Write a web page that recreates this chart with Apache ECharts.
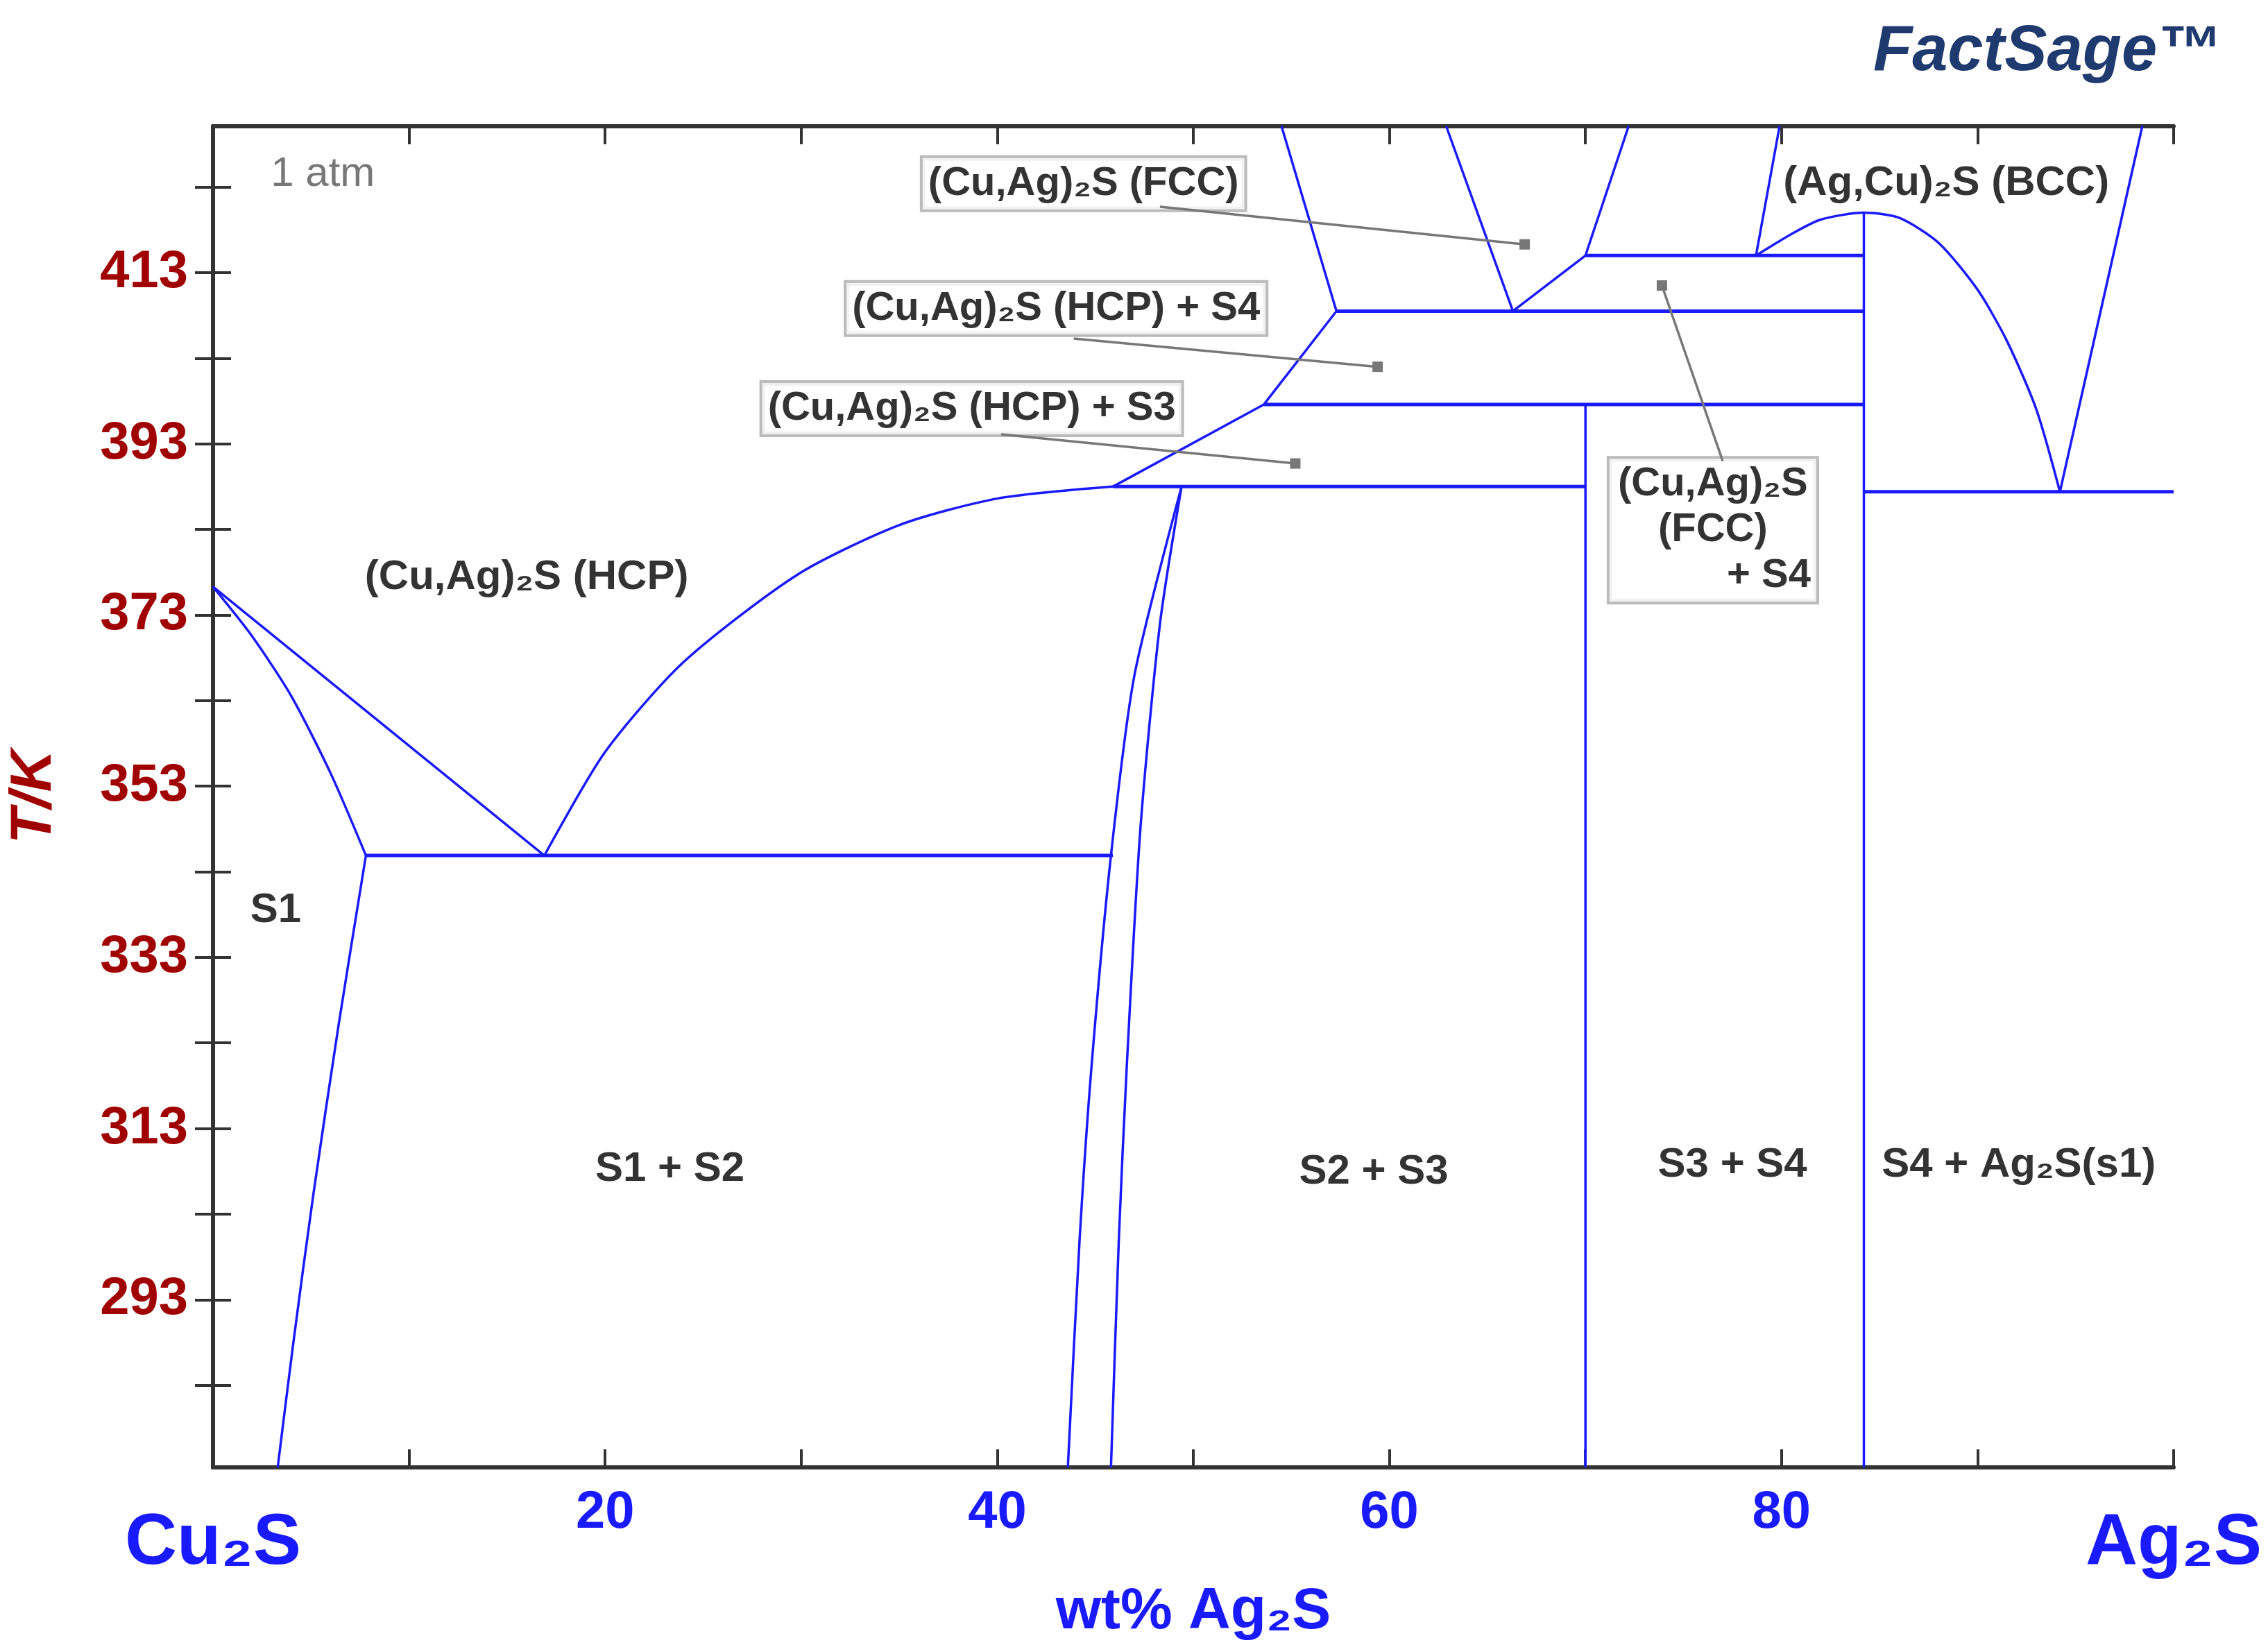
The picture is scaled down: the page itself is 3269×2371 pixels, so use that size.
<!DOCTYPE html>
<html><head><meta charset="utf-8">
<script src="https://cdn.jsdelivr.net/npm/echarts@6/dist/echarts.min.js"></script>
<style>html,body{margin:0;background:#fff}#c{width:3269px;height:2371px}</style>
</head><body><div id="c"></div>
<script>
// Phase boundary lines: [wt% Ag2S, T/K]
const s1Upper = [[0,376.3],[2,370.5],[4,363.5],[6,354.5],[7.8,344.9]];
const s1Lower = [[7.8,344.9],[6.4,325],[5.1,305],[4.1,288],[3.3,273.4]];
const hcpSolidus = [[0,376.3],[16.9,344.9]];
const eutectic = [[7.8,344.9],[45.9,344.9]];
const hcpLiquidus = [[16.9,344.9],[20,357],[24,367.5],[29.8,377.7],[35,383.5],[40,386.6],[45.9,388]];
const hcpUpper = [[45.9,388],[53.6,397.6],[57.3,408.5],[54.5,430.1]];
const s2Left = [[43.6,273.4],[44.2,300],[44.8,320],[45.8,344.9],[47,366],[49.4,388]];
const s2Right = [[45.8,273.4],[46.2,300],[46.6,320],[47.3,348],[48.3,372],[49.4,388]];
const h388 = [[45.9,388],[70,388]];
const h397 = [[53.6,397.6],[84.2,397.6]];
const h408 = [[57.3,408.5],[84.2,408.5]];
const h415 = [[70,415],[84.2,415]];
const v70 = [[70,273.4],[70,397.6]];
const v84 = [[84.2,273.4],[84.2,420]];
const fccLeft = [[62.9,430.1],[66.3,408.5],[70,415],[72.2,430.1]];
const fccRight = [[78.7,415],[79.9,430.1]];
const bccDome = [[78.7,415],[80.5,417.5],[82,419.2],[84.2,420],[86,419.4],[88,416.5],[90,411],[91.5,405],[93,397],[94.2,387.4]];
const bccRight = [[94.2,387.4],[98.4,430.1]];
const h387 = [[84.2,387.4],[100,387.4]];
const boundaries = [s1Upper,s1Lower,hcpSolidus,eutectic,hcpLiquidus,hcpUpper,s2Left,s2Right,h388,h397,h408,h415,v70,v84,fccLeft,fccRight,bccDome,bccRight,h387];
const curved = [s1Upper,s1Lower,hcpLiquidus,s2Left,s2Right,bccDome];

// Region labels
const plainLabels = [
  ['1 atm',5.6,424.5],
  ['(Ag,Cu)₂S (BCC)',88.4,423.4],
  ['(Cu,Ag)₂S (HCP)',16,377.4],
  ['S1',3.2,338.5],
  ['S1 + S2',23.3,308.2],
  ['S2 + S3',59.2,307.9],
  ['S3 + S4',77.5,308.7],
  ['S4 + Ag₂S(s1)',92.1,308.7]
];
const boxLabels = [
  ['(Cu,Ag)₂S (FCC)',44.4,423.4],
  ['(Cu,Ag)₂S (HCP) + S4',43,408.8],
  ['(Cu,Ag)₂S (HCP) + S3',38.7,397.1],
  ['(Cu,Ag)₂S\n(FCC)\n          + S4',76.5,382.9]
];
const leaders = [
  [[48.3,420.7],[66.9,416.3]],
  [[43.9,405.3],[59.4,402]],
  [[40.2,394.1],[55.2,390.7]],
  [[77.0,391],[73.9,411.5]]
];
const xTicks = [0,10,20,30,40,50,60,70,80,90,100];
const xLabels = [0,20,40,60,80,100];
const yTicks = [283,293,303,313,323,333,343,353,363,373,383,393,403,413,423];
const yLabels = [293,313,333,353,373,393,413];

const blue = '#1a1aff';
const series = [];
boundaries.forEach(b => series.push({type:'line',data:b,symbol:'none',silent:true,
  smooth: curved.includes(b) ? 0.25 : false,
  lineStyle:{color:blue,width:(b.length===2&&b[0][1]===b[1][1])?5:3.5}}));
leaders.forEach(l => series.push({type:'line',symbol:'none',silent:true,
  data:[{value:l[0]},{value:l[1],symbol:'rect',symbolSize:15}],showAllSymbol:true,
  lineStyle:{color:'#777',width:3.5},itemStyle:{color:'#777'}}));
const font = 'Liberation Sans';
series.push({type:'scatter',symbolSize:0,silent:true,
  data:plainLabels.map(p=>({value:[p[1],p[2]],name:p[0]})),
  label:{show:true,position:'inside',formatter:p=>p.name,fontFamily:font,fontWeight:'bold',fontSize:60,color:'#000'}});
series[series.length-1].data[0].label={fontWeight:'normal',color:'#555',fontSize:60};
series.push({type:'scatter',symbolSize:0,silent:true,
  data:boxLabels.map(p=>({value:[p[1],p[2]],name:p[0]})),
  label:{show:true,position:'inside',formatter:p=>p.name,fontFamily:font,fontWeight:'bold',fontSize:58,color:'#000',
    backgroundColor:'#fff',borderColor:'#aaa',borderWidth:4,padding:[4,8],lineHeight:66,align:'center'}});

const chart = echarts.init(document.getElementById('c'));
chart.setOption({
  animation:false,
  grid:{left:306,right:136,top:182,bottom:171},
  graphic:[{type:'text',left:2700,top:30,style:{text:'FactSage™',font:'italic bold 92px Liberation Sans',fill:'#1f3a6e'}}],
  xAxis:[{type:'value',min:0,max:100,position:'bottom',
    axisLine:{lineStyle:{color:'#333',width:6}},splitLine:{show:false},
    axisTick:{inside:true,length:26,customValues:xTicks,lineStyle:{color:'#333',width:4}},
    axisLabel:{customValues:xLabels,margin:28,fontFamily:font,fontWeight:'bold',fontSize:76,color:blue,
      formatter:v=>v===0?'{b|Cu₂S}':v===100?'{b|Ag₂S}':String(v),
      rich:{b:{fontSize:104,fontWeight:'bold',fontFamily:font,color:blue,padding:[30,0,0,0]}}},
    name:'wt% Ag₂S',nameLocation:'middle',nameGap:92,
    nameTextStyle:{fontFamily:font,fontWeight:'bold',fontSize:84,color:blue}},
   {type:'value',min:0,max:100,position:'top',axisLine:{lineStyle:{color:'#333',width:6}},splitLine:{show:false},
    axisTick:{inside:true,length:26,customValues:xTicks,lineStyle:{color:'#333',width:4}},axisLabel:{show:false}}],
  yAxis:[{type:'value',min:273.4,max:430.1,position:'left',
    axisLine:{lineStyle:{color:'#333',width:6}},splitLine:{show:false},
    axisTick:{inside:true,length:26,customValues:yTicks,lineStyle:{color:'#333',width:4}},
    axisLabel:{customValues:yLabels,margin:36,fontFamily:font,fontWeight:'bold',fontSize:76,color:'#a00000'},
    name:'T/K',nameLocation:'middle',nameGap:215,
    nameTextStyle:{fontFamily:font,fontWeight:'bold',fontStyle:'italic',fontSize:84,color:'#a00000'}},
   {type:'value',min:273.4,max:430.1,position:'right',axisLine:{lineStyle:{color:'#333',width:6}},splitLine:{show:false},
    axisTick:{inside:true,length:26,customValues:yTicks,lineStyle:{color:'#333',width:4}},axisLabel:{show:false}}],
  series:series
});
</script></body></html>
